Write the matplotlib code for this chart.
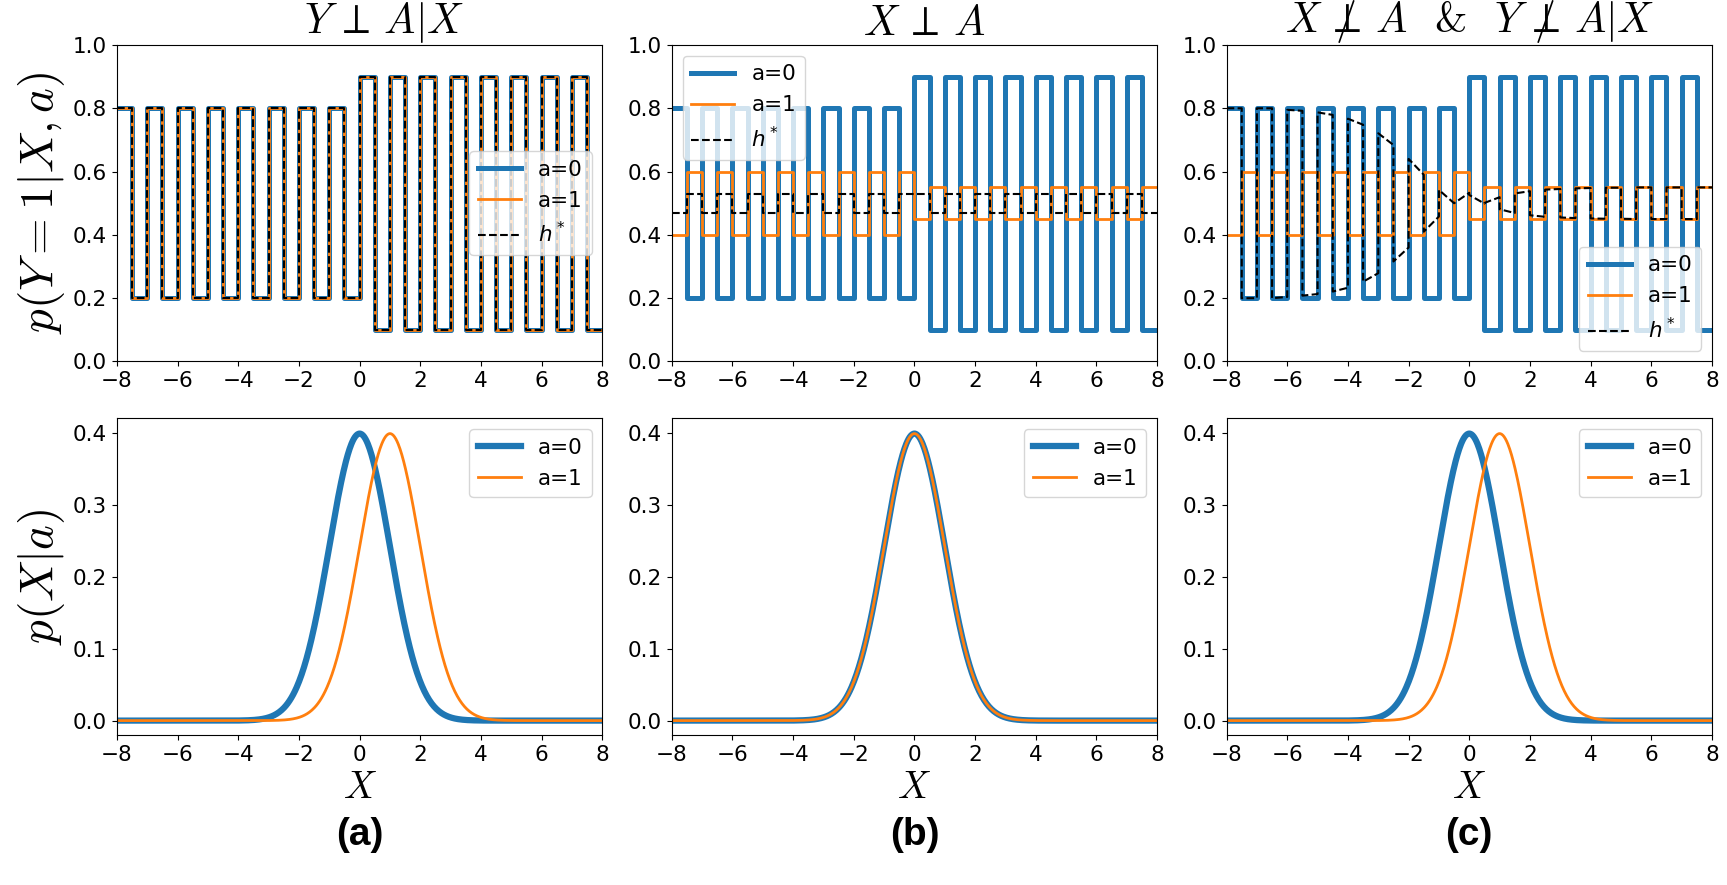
import numpy as np
import matplotlib
matplotlib.use("Agg")
import matplotlib.pyplot as plt
from matplotlib.mathtext import MathTextParser
from matplotlib.font_manager import FontProperties

plt.rcParams['mathtext.fontset'] = 'cm'
plt.rcParams['font.size'] = 15.5

# x range and step width of the p(Y=1|X,a) curves
x_min, x_max = -8, 8
seg_width = 0.5

# p(Y=1|X,a=0), same in all three panels (one value per half-unit segment)
py_a0 = [0.8, 0.2, 0.8, 0.2, 0.8, 0.2, 0.8, 0.2, 0.8, 0.2, 0.8, 0.2, 0.8, 0.2, 0.8, 0.2,
         0.9, 0.1, 0.9, 0.1, 0.9, 0.1, 0.9, 0.1, 0.9, 0.1, 0.9, 0.1, 0.9, 0.1, 0.9, 0.1]
# p(Y=1|X,a=1) in (a) equals a=0; in (b) and (c) it is a smaller swing
py_a1_a = list(py_a0)
py_a1_bc = [0.4, 0.6, 0.4, 0.6, 0.4, 0.6, 0.4, 0.6, 0.4, 0.6, 0.4, 0.6, 0.4, 0.6, 0.4, 0.6,
            0.45, 0.55, 0.45, 0.55, 0.45, 0.55, 0.45, 0.55, 0.45, 0.55, 0.45, 0.55, 0.45, 0.55, 0.45, 0.55]
# h* in (a) and (b), constant per segment
hstar_a = list(py_a0)
hstar_b = [0.47, 0.53, 0.47, 0.53, 0.47, 0.53, 0.47, 0.53, 0.47, 0.53, 0.47, 0.53, 0.47, 0.53, 0.47, 0.53,
           0.53, 0.47, 0.53, 0.47, 0.53, 0.47, 0.53, 0.47, 0.53, 0.47, 0.53, 0.47, 0.53, 0.47, 0.53, 0.47]
# h* in (c): value at start and end of every segment
hstar_c_start = [0.80, 0.20, 0.80, 0.20, 0.795, 0.208, 0.787, 0.221, 0.767, 0.252, 0.721, 0.316, 0.64, 0.41, 0.542, 0.50,
                 0.526, 0.501, 0.481, 0.531, 0.462, 0.543, 0.455, 0.547, 0.452, 0.549, 0.451, 0.55, 0.45, 0.55, 0.45, 0.55]
hstar_c_end = [0.80, 0.20, 0.80, 0.204, 0.792, 0.213, 0.779, 0.233, 0.748, 0.279, 0.684, 0.36, 0.59, 0.458, 0.50, 0.533,
               0.499, 0.519, 0.469, 0.538, 0.457, 0.545, 0.453, 0.548, 0.451, 0.549, 0.45, 0.55, 0.45, 0.55, 0.45, 0.55]

# p(X|a): normal densities, mean per group and panel, unit std
mu_a0 = [0.0, 0.0, 0.0]
mu_a1 = [1.0, 0.0, 1.0]
sigma = 1.0

letras = ['(a)', '(b)', '(c)']
x_ticks = [-8, -6, -4, -2, 0, 2, 4, 6, 8]


def mathtext_ok(s):
    try:
        MathTextParser('agg').parse(s, dpi=100, prop=FontProperties(size=20))
        return True
    except Exception:
        return False


# "not independent": a slash drawn over \perp, first option that mathtext accepts
opcoes_nperp = [r'\,\perp\hspace{-0.93}/\hspace{0.36}\,',
                r'\,\perp\!\!\!\!\!\!/\;\;\,',
                r'\not\perp']
nperp = opcoes_nperp[-1]
for op in opcoes_nperp:
    if mathtext_ok(r'$X ' + op + r' A$'):
        nperp = op
        break
titulo_c = r'$X ' + nperp + r' A$  &  $Y ' + nperp + r' A|X$'
titulos = [r'$Y \,\perp\, A|X$', r'$X \,\perp\, A$', titulo_c]
titulo_x = [0.55, 0.52, 0.5]


def degraus(niveis):
    """Piecewise-constant polyline from one level per segment."""
    bordas = np.arange(x_min, x_max + seg_width / 2, seg_width)
    xs = np.repeat(bordas, 2)[1:-1]
    ys = np.repeat(np.asarray(niveis, dtype=float), 2)
    return xs, ys


def rampas(inicio, fim):
    """Polyline with a start and end value per segment."""
    bordas = np.arange(x_min, x_max + seg_width / 2, seg_width)
    xs = np.repeat(bordas, 2)[1:-1]
    ys = np.column_stack([inicio, fim]).ravel()
    return xs, ys


def normal(x, mu, s):
    return np.exp(-0.5 * ((x - mu) / s) ** 2) / (s * np.sqrt(2 * np.pi))


fig, axes = plt.subplots(2, 3, figsize=(17.27, 8.85), dpi=100)
fig.subplots_adjust(left=0.0677, right=0.9913, top=0.9492, bottom=0.1695,
                    wspace=0.143, hspace=0.18)

curvas_a1 = [py_a1_a, py_a1_bc, py_a1_bc]
legend_locs = ['center right', 'upper left', 'lower right']

for i in range(3):
    ax = axes[0, i]
    ax.plot(*degraus(py_a0), color='#1f77b4', lw=3.6, label='a=0')
    ax.plot(*degraus(curvas_a1[i]), color='#ff7f0e', lw=2.0, label='a=1')
    if i == 0:
        xs, ys = degraus(hstar_a)
    elif i == 1:
        xs, ys = degraus(hstar_b)
    else:
        xs, ys = rampas(hstar_c_start, hstar_c_end)
    ax.plot(xs, ys, 'k--', lw=1.5, label=r'$h^*$')
    ax.set_xlim(x_min, x_max)
    ax.set_xticks(x_ticks)
    ax.set_ylim(0, 1)
    ax.set_title(titulos[i], fontsize=30, x=titulo_x[i], pad=7, family='cmr10')
    leg = ax.legend(loc=legend_locs[i])
    # the legend's h* is set in the sans math font, not Computer Modern
    for t in leg.get_texts():
        t.set_math_fontfamily('dejavusans')

x = np.linspace(x_min, x_max, 800)
for i in range(3):
    ax = axes[1, i]
    ax.plot(x, normal(x, mu_a0[i], sigma), color='#1f77b4', lw=4.5, label='a=0')
    ax.plot(x, normal(x, mu_a1[i], sigma), color='#ff7f0e', lw=2.0, label='a=1')
    ax.set_xlim(x_min, x_max)
    ax.set_xticks(x_ticks)
    ax.set_ylim(-0.02, 0.42)
    ax.set_yticks([0.0, 0.1, 0.2, 0.3, 0.4])
    ax.set_xlabel(r'$X$', fontsize=27, labelpad=4)
    ax.legend(loc='upper right')
    ax.text(0.5, -0.315, letras[i], transform=ax.transAxes, ha='center', va='center',
            fontsize=28, fontweight='bold', family='Liberation Sans')

axes[0, 0].set_ylabel(r'$p(Y=1|X,a)$', fontsize=34)
axes[1, 0].set_ylabel(r'$p(X|a)$', fontsize=34)

plt.savefig('out.png', dpi=100)
